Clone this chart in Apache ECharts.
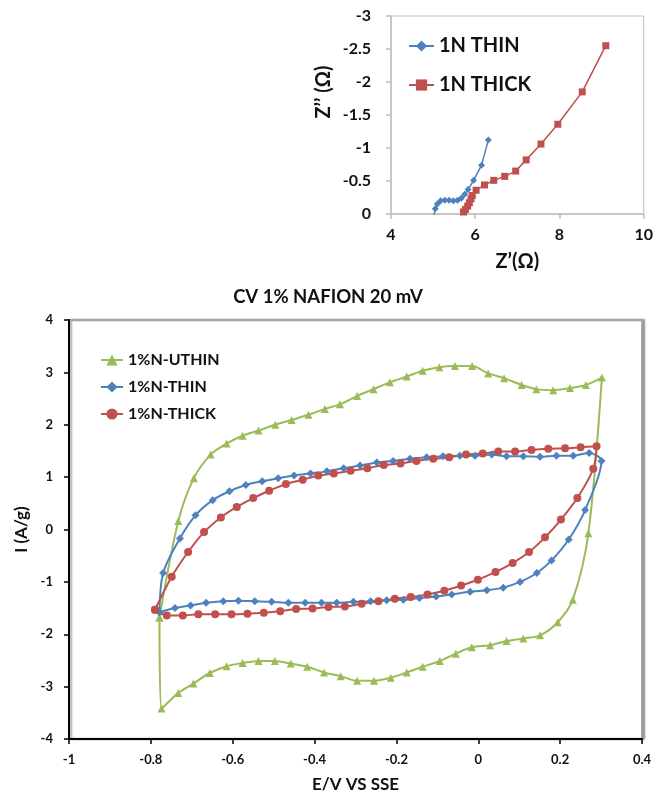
<!DOCTYPE html>
<html>
<head>
<meta charset="utf-8">
<script src="https://cdn.jsdelivr.net/npm/echarts@6/dist/echarts.min.js"></script>
<style>
  html, body { margin: 0; padding: 0; background: #fff; }
  #chart { width: 656px; height: 799px; }
</style>
</head>
<body>
<div id="chart"></div>
<script>
// Nyquist plot: [Z' (ohm), Z'' (ohm)]
const eisThin = [
  [5.02, 0.02], [5.05, -0.08], [5.10, -0.15], [5.18, -0.20], [5.28, -0.21],
  [5.38, -0.21], [5.48, -0.20], [5.58, -0.21], [5.67, -0.24], [5.75, -0.30],
  [5.83, -0.37], [5.96, -0.51], [6.15, -0.74], [6.31, -1.12]
];
const eisThick = [
  [5.72, -0.03], [5.77, -0.07], [5.82, -0.12], [5.86, -0.17], [5.90, -0.23],
  [5.93, -0.28], [6.02, -0.36], [6.22, -0.44], [6.44, -0.51], [6.70, -0.57],
  [6.96, -0.65], [7.21, -0.82], [7.56, -1.06], [7.96, -1.36], [8.54, -1.85],
  [9.10, -2.55]
];

// Cyclic voltammetry at 20 mV/s: [E (V vs SSE), I (A/g)]
const cvUthin = [
  [-0.779, -1.68], [-0.733, 0.16], [-0.695, 0.98], [-0.654, 1.43], [-0.615, 1.64],
  [-0.576, 1.79], [-0.537, 1.89], [-0.496, 2.00], [-0.456, 2.09], [-0.415, 2.19],
  [-0.375, 2.30], [-0.338, 2.39], [-0.296, 2.55], [-0.256, 2.68], [-0.216, 2.81],
  [-0.175, 2.92], [-0.136, 3.03], [-0.095, 3.10], [-0.057, 3.12], [-0.015, 3.12],
  [0.024, 2.98], [0.063, 2.89], [0.106, 2.76], [0.142, 2.68], [0.183, 2.66],
  [0.224, 2.70], [0.263, 2.76], [0.302, 2.90], [0.269, -0.07], [0.231, -1.34],
  [0.194, -1.77], [0.151, -2.02], [0.110, -2.08], [0.069, -2.13], [0.029, -2.21],
  [-0.016, -2.25], [-0.055, -2.37], [-0.094, -2.51], [-0.136, -2.62], [-0.175, -2.73],
  [-0.214, -2.83], [-0.255, -2.89], [-0.296, -2.89], [-0.336, -2.80], [-0.377, -2.73],
  [-0.418, -2.62], [-0.458, -2.56], [-0.497, -2.51], [-0.537, -2.51], [-0.576, -2.55],
  [-0.615, -2.61], [-0.656, -2.74], [-0.696, -2.94], [-0.733, -3.12], [-0.774, -3.42],
  [-0.779, -1.68]
];
const cvThin = [
  [-0.779, -1.58], [-0.770, -0.83], [-0.729, -0.17], [-0.691, 0.27], [-0.649, 0.56],
  [-0.608, 0.73], [-0.568, 0.85], [-0.528, 0.92], [-0.489, 0.98], [-0.450, 1.03],
  [-0.410, 1.07], [-0.370, 1.11], [-0.329, 1.17], [-0.289, 1.22], [-0.248, 1.28],
  [-0.208, 1.31], [-0.167, 1.35], [-0.126, 1.38], [-0.086, 1.40], [-0.045, 1.41],
  [-0.008, 1.41], [0.033, 1.43], [0.069, 1.40], [0.110, 1.40], [0.151, 1.39],
  [0.191, 1.41], [0.232, 1.41], [0.271, 1.46], [0.301, 1.31], [0.261, 0.37],
  [0.221, -0.19], [0.179, -0.59], [0.143, -0.83], [0.102, -1.00], [0.061, -1.11],
  [0.021, -1.16], [-0.020, -1.19], [-0.065, -1.24], [-0.103, -1.28], [-0.144, -1.31],
  [-0.183, -1.34], [-0.224, -1.35], [-0.263, -1.37], [-0.305, -1.38], [-0.346, -1.40],
  [-0.383, -1.40], [-0.423, -1.40], [-0.464, -1.40], [-0.505, -1.38], [-0.546, -1.37],
  [-0.586, -1.36], [-0.623, -1.37], [-0.665, -1.40], [-0.703, -1.45], [-0.741, -1.50],
  [-0.779, -1.58]
];
const cvThick = [
  [-0.790, -1.53], [-0.749, -0.90], [-0.709, -0.43], [-0.670, -0.05], [-0.629, 0.23],
  [-0.590, 0.43], [-0.550, 0.60], [-0.511, 0.74], [-0.470, 0.87], [-0.429, 0.95],
  [-0.391, 1.03], [-0.353, 1.07], [-0.312, 1.12], [-0.271, 1.17], [-0.231, 1.23],
  [-0.190, 1.26], [-0.151, 1.31], [-0.110, 1.35], [-0.071, 1.38], [-0.030, 1.43],
  [0.011, 1.45], [0.049, 1.49], [0.090, 1.49], [0.130, 1.52], [0.171, 1.54],
  [0.212, 1.55], [0.250, 1.57], [0.289, 1.59], [0.281, 1.16], [0.242, 0.60],
  [0.202, 0.19], [0.163, -0.15], [0.124, -0.43], [0.084, -0.64], [0.042, -0.81],
  [-0.001, -0.96], [-0.042, -1.07], [-0.083, -1.17], [-0.124, -1.24], [-0.165, -1.29],
  [-0.204, -1.32], [-0.244, -1.37], [-0.285, -1.42], [-0.326, -1.47], [-0.366, -1.48],
  [-0.405, -1.51], [-0.445, -1.52], [-0.484, -1.56], [-0.524, -1.59], [-0.564, -1.61],
  [-0.603, -1.62], [-0.643, -1.62], [-0.684, -1.62], [-0.722, -1.64], [-0.761, -1.64],
  [-0.790, -1.53]
];

// Axis ranges
const eisXRange = { min: 4, max: 10, interval: 2 };
const eisYRange = { min: -3, max: 0, interval: 0.5 };
const cvXRange = { min: -1, max: 0.4, interval: 0.2 };
const cvYRange = { min: -4, max: 4, interval: 1 };

const FONT = 'Lato';
const BLUE = '#4F81BD', RED = '#C0504D', GREEN = '#9BBB59';

const chart = echarts.init(document.getElementById('chart'), null, { renderer: 'canvas' });

const txt = (size, extra) => Object.assign({
  fontFamily: FONT, fontSize: size, fontWeight: 'bold', color: '#111'
}, extra || {});

chart.setOption({
  animation: false,
  backgroundColor: '#fff',
  title: {
    text: 'CV 1% NAFION 20 mV',
    left: 'center',
    top: 283,
    textStyle: txt(18.5)
  },
  legend: [
    {
      data: ['1N THIN', '1N THICK'],
      orient: 'vertical',
      left: 403,
      top: 31,
      itemWidth: 25,
      itemHeight: 14,
      itemGap: 19,
      textStyle: txt(20)
    },
    {
      data: ['1%N-UTHIN', '1%N-THIN', '1%N-THICK'],
      orient: 'vertical',
      left: 95,
      top: 347,
      itemWidth: 22,
      itemHeight: 14,
      itemGap: 11,
      textStyle: txt(16)
    }
  ],
  grid: [
    {
      left: 391, right: 11, top: 16, height: 198,
      show: true, borderColor: '#bfbfbf', borderWidth: 1, backgroundColor: '#fff'
    },
    {
      left: 69, right: 14, top: 320, height: 419,
      show: true, borderColor: '#a6a6a6', borderWidth: 2, backgroundColor: '#fff',
      shadowColor: 'rgba(0,0,0,0.35)', shadowOffsetX: 2, shadowOffsetY: 0, shadowBlur: 2
    }
  ],
  xAxis: [
    {
      gridIndex: 0, type: 'value',
      min: eisXRange.min, max: eisXRange.max, interval: eisXRange.interval,
      axisLine: { onZero: false, lineStyle: { color: '#bfbfbf', width: 1.5 } },
      axisTick: { length: 5, lineStyle: { color: '#bfbfbf', width: 1.5 } },
      splitLine: { show: false },
      axisLabel: txt(16, { margin: 13 }),
      name: 'Z’(Ω)', nameLocation: 'middle', nameGap: 38,
      nameTextStyle: txt(20)
    },
    {
      gridIndex: 1, type: 'value',
      min: cvXRange.min, max: cvXRange.max, interval: cvXRange.interval,
      axisLine: { onZero: false, lineStyle: { color: '#000', width: 2 } },
      axisTick: { length: 5, lineStyle: { color: '#000', width: 1.5 } },
      splitLine: { show: false },
      axisLabel: txt(13, { margin: 14 }),
      name: 'E/V VS SSE', nameLocation: 'middle', nameGap: 37,
      nameTextStyle: txt(17)
    }
  ],
  yAxis: [
    {
      gridIndex: 0, type: 'value', inverse: true,
      min: eisYRange.min, max: eisYRange.max, interval: eisYRange.interval,
      axisLine: { show: true, onZero: false, lineStyle: { color: '#bfbfbf', width: 1.5 } },
      axisTick: { show: true, length: 5, lineStyle: { color: '#bfbfbf', width: 1.5 } },
      splitLine: { show: false },
      axisLabel: txt(16, { margin: 20 }),
      name: 'Z’’ (Ω)', nameLocation: 'middle', nameGap: 57,
      nameTextStyle: txt(20, { padding: [0, 0, 0, 46] })
    },
    {
      gridIndex: 1, type: 'value',
      min: cvYRange.min, max: cvYRange.max, interval: cvYRange.interval,
      axisLine: { show: true, onZero: false, lineStyle: { color: '#000', width: 2 } },
      axisTick: { show: true, length: 5, lineStyle: { color: '#000', width: 1.5 } },
      splitLine: { show: false },
      axisLabel: txt(13, { margin: 16 }),
      name: 'I (A/g)', nameLocation: 'middle', nameGap: 36,
      nameTextStyle: txt(17)
    }
  ],
  series: [
    {
      name: '1N THIN', type: 'line', xAxisIndex: 0, yAxisIndex: 0,
      data: eisThin, symbol: 'diamond', symbolSize: 7, showAllSymbol: true,
      lineStyle: { color: BLUE, width: 1.5 }, itemStyle: { color: BLUE }
    },
    {
      name: '1N THICK', type: 'line', xAxisIndex: 0, yAxisIndex: 0,
      data: eisThick, symbol: 'rect', symbolSize: 7, showAllSymbol: true,
      lineStyle: { color: RED, width: 1.5 }, itemStyle: { color: RED }
    },
    {
      name: '1%N-UTHIN', type: 'line', xAxisIndex: 1, yAxisIndex: 1,
      data: cvUthin, symbol: 'triangle', symbolSize: 8, showAllSymbol: true, smooth: 0.3,
      lineStyle: { color: GREEN, width: 2 }, itemStyle: { color: GREEN }
    },
    {
      name: '1%N-THIN', type: 'line', xAxisIndex: 1, yAxisIndex: 1,
      data: cvThin, symbol: 'diamond', symbolSize: 8, showAllSymbol: true, smooth: 0.3,
      lineStyle: { color: BLUE, width: 2 }, itemStyle: { color: BLUE }
    },
    {
      name: '1%N-THICK', type: 'line', xAxisIndex: 1, yAxisIndex: 1,
      data: cvThick, symbol: 'circle', symbolSize: 8, showAllSymbol: true, smooth: 0.3,
      lineStyle: { color: RED, width: 2 }, itemStyle: { color: RED }
    }
  ]
});
</script>
</body>
</html>
